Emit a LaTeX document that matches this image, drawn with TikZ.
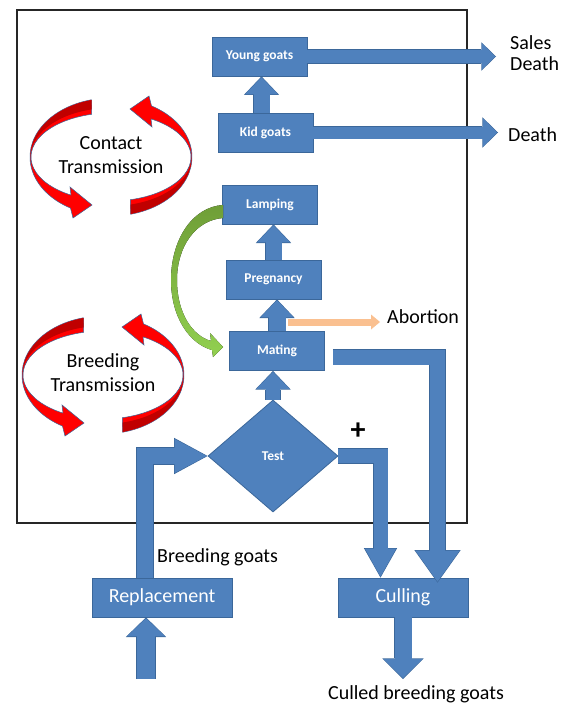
\documentclass[tikz,border=0pt]{standalone}
\usepackage{fontspec}
\setmainfont{Carlito}
\usepackage{xcolor}
\usepackage{tikz}
\usetikzlibrary{arrows.meta, shapes, positioning, calc}
\definecolor{C_BOX} {HTML}{4F81BD}
\definecolor{C_EDGE}{HTML}{3B679A}
\definecolor{C_RED} {HTML}{FF0000}
\definecolor{C_DRED}{HTML}{C00000}
\definecolor{C_ORNG}{HTML}{FAC090}
\definecolor{C_GRN1}{HTML}{6F9E37}
\definecolor{C_GRN2}{HTML}{92D050}
\tikzset{
  %% -- stage box of the herd --
  flow/stage/.style={
    draw=C_EDGE, fill=C_BOX, line width=0.8pt, text=white,
    minimum width=95pt, minimum height=39pt, inner sep=0pt,
    font=\fontsize{13.5}{16}\selectfont\bfseries
  },
  %% -- large box (in / out of the herd) --
  flow/big/.style={
    flow/stage, minimum width=140pt,
    font=\fontsize{20}{24}\selectfont
  },
  %% -- test diamond --
  flow/test/.style={flow/stage, diamond, minimum width=130pt, minimum height=112pt},
  %% -- plain black label --
  flow/lbl/.style={font=\fontsize{20}{21}\selectfont, inner sep=0pt, align=left},
  %% -- block arrow: shaft width, head length, head width --
  flow/blk/.style n args={3}{
    draw=C_BOX, line width=#1, line join=miter, shorten >=0.9pt,
    -{Triangle[length=#2, width=#3, fill=C_BOX, color=C_BOX, line width=0pt]},
    preaction={draw=C_EDGE, line width=#1+1.6pt, shorten >=0pt,
      -{Triangle[length=#2+1.6pt, width=#3+2.4pt, fill=C_EDGE, color=C_EDGE, line width=0pt]}}
  },
  %% -- thin abortion arrow --
  flow/abort/.style={draw=C_ORNG, line width=7pt,
    -{Triangle[length=9pt, width=15pt, line width=0pt]}},
  %% -- red transmission loops --
  flow/loop/.style={fill=C_RED, draw=C_EDGE, line width=0.5pt},
  flow/loopdark/.style={fill=C_DRED},
}

\begin{document}
\begin{tikzpicture}[x=1pt, y=-1pt]
\useasboundingbox (0,0) rectangle (565,706);

%% Herd frame
\draw[line width=1.3pt, black!85] (17,10) rectangle (467,523);

%% Stages
\node[flow/stage] (young)     at (259.5, 56.5) {Young goats};
\node[flow/stage] (kid)       at (265.5,132.5) {Kid goats};
\node[flow/stage] (lamping)   at (270,  204.5) {Lamping};
\node[flow/stage] (pregnancy) at (273.5,279.5) {Pregnancy};
\node[flow/stage] (mating)    at (277,  351)   {Mating};
\node[flow/test]  (test)      at (273,  456)   {Test};
\node[flow/big]   (replacement) at (162,597.5) {Replacement};
\node[flow/big, minimum width=130pt] (culling) at (403,597.5) {Culling};

%% Labels
\node[flow/lbl, anchor=west] (sales)    at (510, 53)  {Sales\\Death};
\node[flow/lbl, anchor=west] (death)    at (508,135)  {Death};
\node[flow/lbl, anchor=west] (abortion) at (387,317)  {Abortion};
\node[flow/lbl, anchor=west] (breedlbl) at (157,557)  {Breeding goats};
\node[flow/lbl] (culled) at (416,694) {Culled breeding goats};
\node[font=\fontsize{30}{30}\selectfont\bfseries, inner sep=0pt] (plus) at (358,431) {+};
\coordinate (feed)    at (146,679);
\coordinate (cullend) at (405,679);
\coordinate (abstart) at (288,322);

%% Up the herd
\draw[flow/blk={16pt}{17pt}{33pt}] ([xshift=-4pt]kid.north) -- ([xshift=-4pt]kid.north |- young.south);
\draw[flow/blk={16pt}{17pt}{33pt}] (pregnancy.north) -- (pregnancy.north |- lamping.south);
\draw[flow/blk={17pt}{17pt}{33pt}] (mating.north) -- (mating.north |- pregnancy.south);
\draw[flow/blk={14pt}{17pt}{33pt}] (test.north) -- (test.north |- mating.south);

%% Out of the herd
\draw[flow/blk={13pt}{13pt}{26pt}] (young.east) -- ([xshift=-14pt]young.east -| sales.west);
\draw[flow/blk={12pt}{14pt}{28pt}] (kid.east) -- ([xshift=-10pt]kid.east -| death.west);
\draw[flow/abort] (abstart) -- ([xshift=-7pt]abstart -| abortion.west);

%% Replacement and culling
\draw[flow/blk={18pt}{18pt}{38pt}] (feed) -- (feed |- replacement.south);
\draw[flow/blk={16pt}{32pt}{34pt}] ([xshift=-17pt]replacement.north) |- (test.west);
\draw[flow/blk={14pt}{28pt}{31pt}] (test.east) -| ([xshift=-22.5pt]culling.north);
\draw[flow/blk={15pt}{31pt}{44pt}] ([xshift=8pt,yshift=-6pt]mating.east)
  -| ([xshift=34.5pt,yshift=-5pt]culling.north);
\draw[flow/blk={17pt}{19pt}{39pt}] (culling.south) -- (culling.south |- cullend);

%% Lamping back to mating
\fill[top color=C_GRN1, bottom color=C_GRN2]
  (223,205) .. controls (192,207) and (171,240) .. (171,280)
  .. controls (171,318) and (190,344) .. (212,350)
  -- (213,357) -- (223,347) -- (210,333) -- (211,341)
  .. controls (193,336) and (177,314) .. (177,280)
  .. controls (177,246) and (196,220) .. (223,218) -- cycle;

%% Transmission loops
\foreach \cx/\cy/\nm/\word in {111/157/contact/Contact, 103/375/breeding/Breeding}{
  \begin{scope}[shift={(\cx,\cy)}]
    \foreach \rot in {0,180}{
      \begin{scope}[rotate=\rot]
        \filldraw[flow/loop] (256:81 and 59)
          arc[start angle=256, end angle=120, x radius=81, y radius=59]
          -- (-38,61) -- (-19,48) -- (-41,30) -- (120:80 and 44)
          arc[start angle=120, end angle=256, x radius=80, y radius=44] -- cycle;
        \fill[flow/loopdark] (256:80.6 and 58.6)
          arc[start angle=256, end angle=180, x radius=80.6, y radius=58.6]
          arc[start angle=180, end angle=256, x radius=80.6, y radius=49] -- cycle;
      \end{scope}
    }
  \end{scope}
  \node[flow/lbl, align=center, font=\fontsize{20}{24}\selectfont] (\nm) at (\cx,\cy-2) {\word\\Transmission};
}
\end{tikzpicture}
\end{document}
